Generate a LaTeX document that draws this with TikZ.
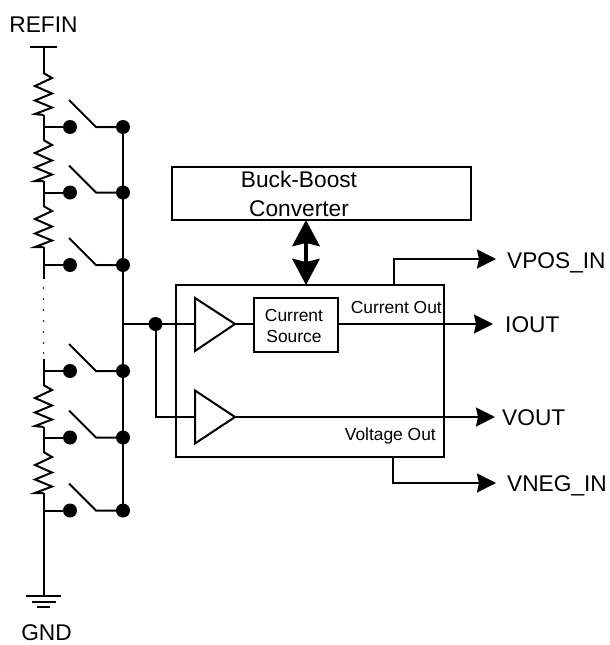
\documentclass[tikz,border=0pt]{standalone}
\usepackage{fontspec}
\setmainfont{Liberation Sans}
\usetikzlibrary{arrows.meta}
\tikzset{
  wire/.style={line width=2pt,black,line join=miter},
  boxed/.style={draw,line width=2pt,inner sep=0pt,outer sep=0pt,anchor=north west},
  amp/.style={wire,line join=miter,fill=white},
  dot/.style={circle,fill=black,minimum size=14pt,inner sep=0pt,outer sep=0pt},
  arr/.style={wire,-{Stealth[length=19pt,width=19pt,inset=2pt]}},
  bigtxt/.style={font=\fontsize{22.7}{27}\selectfont,inner sep=0pt,anchor=base},
  smalltxt/.style={font=\fontsize{17.4}{21}\selectfont,inner sep=0pt,anchor=base},
  tinydot/.style={circle,fill=black,minimum size=1.8pt,inner sep=0pt},
}
% resistor: zigzag from the named coordinate #1 to the named coordinate #2, height 42
\newcommand{\zigres}[2]{%
  \draw[wire] (#1) -- ++(8.5,5) -- ++(-17,8) -- ++(17,7.5) -- ++(-17,7) -- ++(17,7) -- ++(-17,6.5) -- (#2);
}
% tap and switch at height #1, with name suffix #2
\newcommand{\tapsw}[2]{%
  \coordinate (rail#2) at (43.5,#1);
  \node[dot] (a#2) at (70,#1) {};
  \node[dot] (b#2) at (123,#1) {};
  \coordinate (top#2) at (69,#1-27);
  \coordinate (hinge#2) at (96,#1);
  \draw[wire] (rail#2) -- (a#2);
  \draw[wire] (top#2) -- (hinge#2) -- (b#2);
}
\begin{document}
\begin{tikzpicture}[x=1pt,y=-1pt]
\useasboundingbox (0,0) rectangle (610,645);
% texts
\node[bigtxt] (refin) at (43.5,32) {REFIN};
\node[bigtxt] (gnd) at (46.5,640.5) {GND};
% ladder rail
\coordinate (t1) at (30,47); \coordinate (t2) at (57,47); \coordinate (t0) at (43.5,47);
\draw[wire] (t1) -- (t2);
\coordinate (r1a) at (43.5,73);  \coordinate (r1b) at (43.5,115);
\coordinate (r2a) at (43.5,140); \coordinate (r2b) at (43.5,181);
\coordinate (r3a) at (43.5,206); \coordinate (r3b) at (43.5,247);
\coordinate (r4a) at (43.5,385); \coordinate (r4b) at (43.5,427);
\coordinate (r5a) at (43.5,452); \coordinate (r5b) at (43.5,493);
\coordinate (e1) at (43.5,279);  \coordinate (e2) at (43.5,359);
\coordinate (g0) at (43.5,596);
\draw[wire] (t0) -- (r1a);
\zigres{r1a}{r1b}
\draw[wire] (r1b) -- (r2a);
\zigres{r2a}{r2b}
\draw[wire] (r2b) -- (r3a);
\zigres{r3a}{r3b}
\draw[wire] (r3b) -- (e1);
\draw[wire] (e2) -- (r4a);
\zigres{r4a}{r4b}
\draw[wire] (r4b) -- (r5a);
\zigres{r5a}{r5b}
\draw[wire] (r5b) -- (g0);
% ellipsis dots
\foreach \n/\yy in {1/288,2/299,3/310,4/321,5/332,6/343,7/353}{
  \node[tinydot] (d\n) at (43.5,\yy) {};
}
% ground
\coordinate (g1a) at (26,596); \coordinate (g1b) at (61,596);
\coordinate (g2a) at (32,602); \coordinate (g2b) at (56,602);
\coordinate (g3a) at (37,607); \coordinate (g3b) at (50,607);
\draw[wire] (g1a) -- (g1b);
\draw[wire] (g2a) -- (g2b);
\draw[wire] (g3a) -- (g3b);
% taps
\tapsw{127}{A}
\tapsw{192.5}{B}
\tapsw{265}{C}
\tapsw{371}{D}
\tapsw{437.5}{E}
\tapsw{510.5}{F}
\draw[wire] (bA) -- (bF);
% main block
\node[boxed,minimum width=268pt,minimum height=172pt] (main) at (176,285) {};
\node[boxed,minimum width=299pt,minimum height=53pt] (buck) at (172,167) {};
\node[bigtxt] (bucktxt1) at (299,187.5) {Buck-Boost};
\node[bigtxt] (bucktxt2) at (299,216) {Converter};
% double arrow
\coordinate (buckb) at (306,220); \coordinate (maint) at (306,285);
\draw[line width=4.5pt,{Stealth[length=26pt,width=27pt,inset=3pt]}-{Stealth[length=26pt,width=27pt,inset=3pt]}] (buckb) -- (maint);
% junction and amps
\node[dot] (junc) at (155.5,324) {};
\coordinate (busj) at (123,324);
\coordinate (amp1in) at (195,324); \coordinate (amp1out) at (235,324);
\coordinate (amp2in) at (195,417); \coordinate (amp2out) at (235,417);
\coordinate (bend) at (155.5,417);
\draw[wire] (busj) -- (amp1in);
\draw[wire] (junc) -- (bend) -- (amp2in);
\draw[amp] (195,298) -- (amp1out) -- (195,351) -- cycle;
\draw[amp] (195,390.5) -- (amp2out) -- (195,443.5) -- cycle;
\node[boxed,minimum width=84pt,minimum height=54pt,fill=white] (src) at (254,298) {};
\node[smalltxt] (srct1) at (294,321) {Current};
\node[smalltxt] (srct2) at (294,342) {Source};
\draw[wire] (amp1out) -- (src.west |- amp1out);
% outputs
\node[bigtxt,anchor=base west] (iout) at (505,332) {IOUT};
\node[bigtxt,anchor=base west] (vout) at (502,425) {VOUT};
\node[bigtxt,anchor=base west] (vpos) at (507,268) {VPOS\_IN};
\node[bigtxt,anchor=base west] (vneg) at (507,491) {VNEG\_IN};
\coordinate (iout1) at (493,324);
\coordinate (vout1) at (495,417);
\coordinate (vpos1) at (496,259);
\coordinate (vneg1) at (496,483);
\draw[arr] (src.east |- iout1) -- (iout1);
\draw[arr] (amp2out) -- (vout1);
\draw[arr] (394,285) |- (vpos1);
\draw[arr] (393,457) |- (vneg1);
\node[smalltxt,anchor=base east] (curout) at (442,313) {Current Out};
\node[smalltxt,anchor=base east] (volout) at (436,440) {Voltage Out};
\end{tikzpicture}
\end{document}
